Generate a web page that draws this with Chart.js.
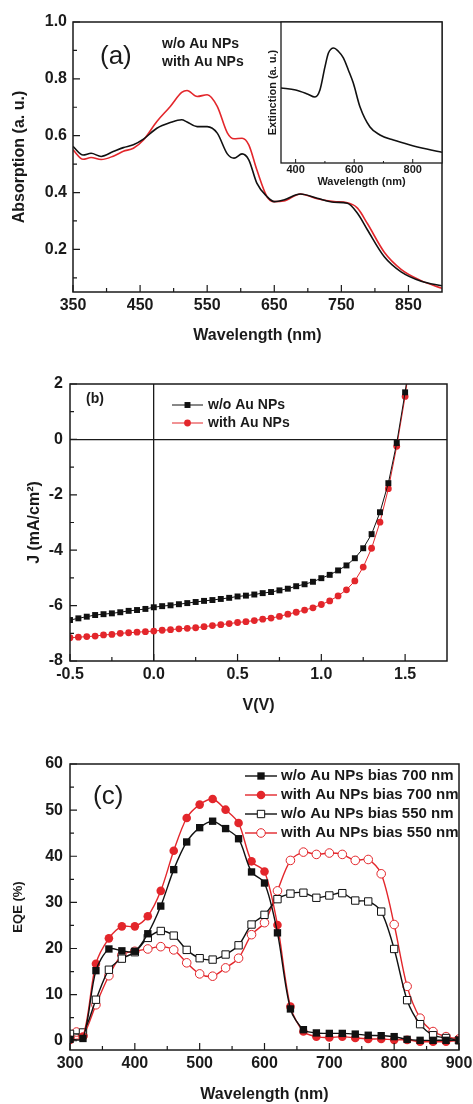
<!DOCTYPE html>
<html><head><meta charset="utf-8">
<script src="https://cdn.jsdelivr.net/npm/chart.js@4.4.1/dist/chart.umd.min.js"></script>
<style>
html,body{margin:0;padding:0;background:#fff;}
body{width:473px;height:1104px;position:relative;overflow:hidden;}
canvas{position:absolute;}
</style></head><body>
<canvas id="cA" width="473" height="350" style="left:0;top:0"></canvas>
<canvas id="cIn" width="195" height="195" style="left:260px;top:0"></canvas>
<canvas id="cB" width="473" height="370" style="left:0;top:350px"></canvas>
<canvas id="cC" width="473" height="384" style="left:0;top:720px"></canvas>
<script>
// ---------- DATA ----------
// (a) absorption
const absWavelength = [350,365,377,392,410,425,440,455,475,495,512,520,535,550,565,580,590,602,612,624,639,650,664,689,714,739,759,774,789,814,839,869,900];
const absWithout = [0.562,0.532,0.538,0.527,0.544,0.558,0.568,0.588,0.626,0.646,0.656,0.648,0.632,0.632,0.609,0.536,0.521,0.536,0.515,0.433,0.386,0.368,0.374,0.395,0.380,0.366,0.362,0.327,0.268,0.174,0.121,0.088,0.072];
const absWith = [0.550,0.517,0.523,0.516,0.528,0.545,0.556,0.585,0.650,0.703,0.752,0.759,0.738,0.744,0.703,0.610,0.589,0.591,0.568,0.480,0.386,0.368,0.370,0.395,0.378,0.368,0.364,0.345,0.290,0.190,0.130,0.090,0.063];
const absSeriesNames = ['w/o Au NPs','with Au NPs'];
const absXTicks = [350,450,550,650,750,850];
const absXMinor = [400,500,600,700,800];
const absYTicks = [0.2,0.4,0.6,0.8,1.0];
const absYMinor = [0.1,0.3,0.5,0.7,0.9];
// inset extinction
const extWavelength = [350,400,440,466,483,500,512,530,545,563,580,597,620,654,688,734,791,848,900];
const extinction = [0.532,0.518,0.49,0.468,0.518,0.68,0.78,0.816,0.794,0.745,0.66,0.567,0.397,0.255,0.199,0.163,0.128,0.099,0.076];
const extXTicks = [400,600,800];
const extXMinor = [500,700];
// (b) J-V
const jvVoltage = [-0.5,-0.45,-0.4,-0.35,-0.3,-0.25,-0.2,-0.15,-0.1,-0.05,0,0.05,0.1,0.15,0.2,0.25,0.3,0.35,0.4,0.45,0.5,0.55,0.6,0.65,0.7,0.75,0.8,0.85,0.9,0.95,1.0,1.05,1.1,1.15,1.2,1.25,1.3,1.35,1.4,1.45,1.5,1.55];
const jvWithout = [-6.52,-6.46,-6.40,-6.34,-6.31,-6.28,-6.24,-6.19,-6.16,-6.12,-6.06,-6.02,-5.99,-5.95,-5.91,-5.87,-5.83,-5.80,-5.76,-5.72,-5.67,-5.64,-5.60,-5.55,-5.51,-5.45,-5.39,-5.30,-5.23,-5.14,-5.01,-4.89,-4.73,-4.55,-4.29,-3.93,-3.42,-2.63,-1.58,-0.13,1.70,3.9];
const jvWith = [-7.16,-7.14,-7.12,-7.10,-7.06,-7.04,-7.00,-6.98,-6.96,-6.94,-6.92,-6.89,-6.87,-6.84,-6.82,-6.80,-6.76,-6.72,-6.69,-6.65,-6.61,-6.58,-6.54,-6.49,-6.45,-6.39,-6.31,-6.24,-6.16,-6.08,-5.96,-5.83,-5.65,-5.43,-5.11,-4.61,-3.93,-2.99,-1.78,-0.25,1.55,3.8];
const jvSeriesNames = ['w/o Au NPs','with Au NPs'];
const jvXTicks = [-0.5,0,0.5,1.0,1.5];
const jvXMinor = [-0.25,0.25,0.75,1.25];
const jvYTicks = [-8,-6,-4,-2,0,2];
const jvYMinor = [-7,-5,-3,-1,1];
// (c) EQE
const eqeWavelength = [300,310,320,340,360,380,400,420,440,460,480,500,520,540,560,580,600,620,640,660,680,700,720,740,760,780,800,820,840,860,880,900];
const eqeNoAu700 = [0.3,null,0.5,15.2,19.9,19.5,19.4,23.2,29.2,37.1,43.1,46.2,47.6,46.0,43.8,36.6,34.2,23.4,6.9,2.4,1.7,1.6,1.6,1.45,1.2,1.1,0.9,0.3,0.1,0.1,0.1,0.1];
const eqeAu700 = [0.2,null,0.9,16.7,22.2,24.8,24.8,27.0,32.5,41.2,48.3,51.2,52.4,50.1,47.2,38.9,36.7,25.1,7.4,2.0,0.9,0.7,0.9,0.6,0.4,0.4,0.2,0.2,-0.2,-0.2,-0.2,0.1];
const eqeNoAu550 = [1.5,null,1.8,8.9,15.4,17.8,19.2,22.3,23.8,22.8,19.7,17.9,17.6,18.7,20.7,25.2,27.3,30.7,31.9,32.1,31.0,31.5,32.0,30.4,30.2,28.0,19.9,8.8,3.6,1.2,0.6,0.1];
const eqeAu550 = [0.6,1.9,1.0,7.8,14.1,18.6,19.4,19.9,20.4,19.7,16.9,14.5,14.0,15.8,17.9,23.0,25.6,32.5,39.1,40.9,40.4,40.7,40.4,39.1,39.3,36.2,25.2,11.8,4.9,2.0,0.9,0.4];
const eqeSeriesNames = ['w/o Au NPs bias 700 nm','with Au NPs bias 700 nm','w/o Au NPs bias 550 nm','with Au NPs bias 550 nm'];
const eqeXTicks = [300,400,500,600,700,800,900];
const eqeXMinor = [350,450,550,650,750,850];
const eqeYTicks = [0,10,20,30,40,50,60];
const eqeYMinor = [5,15,25,35,45,55];

// ---------- STYLE ----------
const FAM = "'Liberation Sans', Arial, sans-serif";
const INK = '#1a1a1a';
const RED = '#e3262b';
const BLK = '#111111';
Chart.defaults.font.family = FAM;
Chart.defaults.color = INK;

const pts = (xs, ys) => xs.map((x, i) => ({x, y: ys[i]}));

function drawMarker(ctx, style, x, y, r, fill, stroke, bw) {
  ctx.beginPath();
  if (style === 'rect') {
    const h = r * Math.SQRT1_2;
    ctx.rect(x - h, y - h, 2 * h, 2 * h);
  } else {
    ctx.arc(x, y, r, 0, Math.PI * 2);
  }
  ctx.fillStyle = fill; ctx.fill();
  if (bw > 0) { ctx.lineWidth = bw; ctx.strokeStyle = stroke; ctx.stroke(); }
}

const framePlugin = {
  id: 'frame',
  beforeDraw(chart, args, o) {
    if (!o || !o.bg) return;
    const {ctx, chartArea: a} = chart;
    ctx.save(); ctx.fillStyle = o.bg;
    ctx.fillRect(a.left, a.top, a.right - a.left, a.bottom - a.top);
    ctx.restore();
  },
  afterDatasetsDraw(chart, args, o) {
    if (!o || !o.on) return;
    const {ctx, chartArea: a} = chart;
    const xs = chart.scales.x, ys = chart.scales.y;
    ctx.save();
    ctx.strokeStyle = INK;
    ctx.lineWidth = o.tickLw || 1.2;
    ctx.beginPath();
    (o.xMajor || []).forEach(v => { const p = xs.getPixelForValue(v); ctx.moveTo(p, a.bottom); ctx.lineTo(p, a.bottom - o.len); });
    (o.xMinor || []).forEach(v => { const p = xs.getPixelForValue(v); ctx.moveTo(p, a.bottom); ctx.lineTo(p, a.bottom - o.minLen); });
    (o.yMajor || []).forEach(v => { const p = ys.getPixelForValue(v); ctx.moveTo(a.left, p); ctx.lineTo(a.left + o.len, p); });
    (o.yMinor || []).forEach(v => { const p = ys.getPixelForValue(v); ctx.moveTo(a.left, p); ctx.lineTo(a.left + o.minLen, p); });
    ctx.stroke();
    ctx.lineWidth = o.lw || 1.5;
    ctx.strokeRect(a.left, a.top, a.right - a.left, a.bottom - a.top);
    ctx.restore();
  }
};

const annotPlugin = {
  id: 'annot',
  afterDraw(chart, args, o) {
    if (!o) return;
    const ctx = chart.ctx;
    ctx.save();
    (o.legend || []).forEach(l => {
      const ds = chart.data.datasets[l.ds];
      if (l.x2 > l.x1) {
        ctx.strokeStyle = ds.borderColor; ctx.lineWidth = ds.borderWidth;
        ctx.beginPath(); ctx.moveTo(l.x1, l.y); ctx.lineTo(l.x2, l.y); ctx.stroke();
        drawMarker(ctx, ds.pointStyle, (l.x1 + l.x2) / 2, l.y, ds.pointRadius, ds.pointBackgroundColor, ds.pointBorderColor, ds.pointBorderWidth);
      }
      ctx.font = l.font; ctx.fillStyle = INK; ctx.textAlign = 'left'; ctx.textBaseline = 'middle';
      ctx.fillText(ds.label, l.tx, l.y);
    });
    (o.texts || []).forEach(t => {
      ctx.font = t.font; ctx.fillStyle = INK; ctx.textAlign = t.align || 'left'; ctx.textBaseline = 'middle';
      ctx.fillText(t.text, t.x, t.y);
    });
    ctx.restore();
  }
};
Chart.register(framePlugin, annotPlugin);

function xAxis(min, max, ticks, height, tickFont, pad, title, titleFont, titlePadB, fmt) {
  return {
    type: 'linear', min, max,
    afterBuildTicks: s => { s.ticks = ticks.map(v => ({value: v})); },
    afterFit: s => { s.height = height; s.paddingLeft = 0; s.paddingRight = 0; },
    grid: {display: false, drawTicks: false}, border: {display: false},
    ticks: {display: !!tickFont, font: tickFont || {}, color: INK, padding: pad, maxRotation: 0, autoSkip: false,
      callback: fmt || (v => String(v))},
    title: {display: true, text: title, font: titleFont, color: INK, padding: {top: 0, bottom: titlePadB}}
  };
}
function yAxis(min, max, ticks, width, tickFont, pad, title, titleFont, titlePadT, fmt) {
  return {
    type: 'linear', min, max,
    afterBuildTicks: s => { s.ticks = ticks.map(v => ({value: v})); },
    afterFit: s => { s.width = width; s.paddingTop = 0; s.paddingBottom = 0; },
    grid: {display: false, drawTicks: false}, border: {display: false},
    ticks: {display: !!tickFont, font: tickFont || {}, color: INK, padding: pad, autoSkip: false,
      callback: fmt || (v => String(v))},
    title: {display: true, text: title, font: titleFont, color: INK, padding: {top: titlePadT, bottom: 0}}
  };
}
const B16 = {family: FAM, size: 16, weight: 'bold'};
const common = {responsive: false, animation: false, events: [], devicePixelRatio: 1};

// ---------- (a) ----------
new Chart(document.getElementById('cA'), {
  type: 'line',
  data: {datasets: [
    {label: absSeriesNames[0], data: pts(absWavelength, absWithout), borderColor: BLK, borderWidth: 1.6, pointRadius: 0, cubicInterpolationMode: 'monotone'},
    {label: absSeriesNames[1], data: pts(absWavelength, absWith), borderColor: RED, borderWidth: 1.6, pointRadius: 0, cubicInterpolationMode: 'monotone'}
  ]},
  options: {...common,
    layout: {padding: {left: 0, right: 31, top: 22, bottom: 0}},
    scales: {
      x: xAxis(350, 900, absXTicks, 58, B16, 4, 'Wavelength (nm)', B16, 5),
      y: yAxis(0.05, 1.0, absYTicks, 73, B16, 6, 'Absorption (a. u.)', B16, 10, v => v.toFixed(1))
    },
    plugins: {legend: {display: false}, tooltip: {enabled: false},
      frame: {on: true, lw: 1.5, len: 7, minLen: 4, xMajor: absXTicks, xMinor: absXMinor, yMajor: absYTicks, yMinor: absYMinor},
      annot: {
        legend: [
          {ds: 0, x1: 0, x2: 0, tx: 162, y: 44, font: "bold 14px " + FAM},
          {ds: 1, x1: 0, x2: 0, tx: 162, y: 62, font: "bold 14px " + FAM}
        ],
        texts: [{text: '(a)', x: 100, y: 57, font: "26px " + FAM}]
      }
    }
  }
});

// ---------- inset ----------
new Chart(document.getElementById('cIn'), {
  type: 'line',
  data: {datasets: [
    {label: 'Extinction', data: pts(extWavelength, extinction), borderColor: BLK, borderWidth: 1.6, pointRadius: 0, cubicInterpolationMode: 'monotone'}
  ]},
  options: {...common,
    layout: {padding: {left: 0, right: 13, top: 22, bottom: 0}},
    scales: {
      x: xAxis(350, 900, extXTicks, 32, {family: FAM, size: 11, weight: 'bold'}, 0, 'Wavelength (nm)', {family: FAM, size: 11, weight: 'bold'}, 6),
      y: yAxis(0, 1, [], 21, null, 0, 'Extinction (a. u.)', {family: FAM, size: 11, weight: 'bold'}, 6)
    },
    plugins: {legend: {display: false}, tooltip: {enabled: false},
      frame: {on: true, bg: '#ffffff', lw: 1.3, tickLw: 1, len: 4, minLen: 2, xMajor: extXTicks, xMinor: extXMinor}
    }
  }
});

// ---------- (b) ----------
new Chart(document.getElementById('cB'), {
  type: 'line',
  data: {datasets: [
    {label: jvSeriesNames[0], data: pts(jvVoltage, jvWithout), borderColor: BLK, borderWidth: 1, tension: 0,
      pointStyle: 'rect', pointRadius: 4.2, pointBackgroundColor: BLK, pointBorderColor: BLK, pointBorderWidth: 0},
    {label: jvSeriesNames[1], data: pts(jvVoltage, jvWith), borderColor: RED, borderWidth: 1, tension: 0,
      pointStyle: 'circle', pointRadius: 3.4, pointBackgroundColor: RED, pointBorderColor: RED, pointBorderWidth: 0}
  ]},
  options: {...common,
    layout: {padding: {left: 0, right: 26, top: 34, bottom: 0}},
    scales: {
      x: Object.assign(xAxis(-0.5, 1.75, jvXTicks, 59, B16, 4, 'V(V)', B16, 5, v => v.toFixed(1)),
        {grid: {display: true, drawTicks: false, lineWidth: 1.3, color: c => c.tick && c.tick.value === 0 ? INK : 'rgba(0,0,0,0)'}}),
      y: Object.assign(yAxis(-8, 2, jvYTicks, 70, B16, 7, 'J (mA/cm²)', B16, 25),
        {grid: {display: true, drawTicks: false, lineWidth: 1.3, color: c => c.tick && c.tick.value === 0 ? INK : 'rgba(0,0,0,0)'}})
    },
    plugins: {legend: {display: false}, tooltip: {enabled: false},
      frame: {on: true, lw: 1.5, len: 7, minLen: 4, xMajor: jvXTicks, xMinor: jvXMinor, yMajor: jvYTicks, yMinor: jvYMinor},
      annot: {
        legend: [
          {ds: 0, x1: 172, x2: 203, tx: 208, y: 55, font: "bold 14px " + FAM},
          {ds: 1, x1: 172, x2: 203, tx: 208, y: 73, font: "bold 14px " + FAM}
        ],
        texts: [{text: '(b)', x: 86, y: 49, font: "bold 14px " + FAM}]
      }
    }
  }
});

// ---------- (c) ----------
new Chart(document.getElementById('cC'), {
  type: 'line',
  data: {datasets: [
    {label: eqeSeriesNames[0], data: pts(eqeWavelength, eqeNoAu700), borderColor: BLK, borderWidth: 1.4, tension: 0.3, spanGaps: true,
      pointStyle: 'rect', pointRadius: 5.2, pointBackgroundColor: BLK, pointBorderColor: BLK, pointBorderWidth: 0},
    {label: eqeSeriesNames[1], data: pts(eqeWavelength, eqeAu700), borderColor: RED, borderWidth: 1.4, tension: 0.3, spanGaps: true,
      pointStyle: 'circle', pointRadius: 4.3, pointBackgroundColor: RED, pointBorderColor: RED, pointBorderWidth: 0},
    {label: eqeSeriesNames[2], data: pts(eqeWavelength, eqeNoAu550), borderColor: BLK, borderWidth: 1.4, tension: 0.3, spanGaps: true,
      pointStyle: 'rect', pointRadius: 5.2, pointBackgroundColor: '#ffffff', pointBorderColor: BLK, pointBorderWidth: 1},
    {label: eqeSeriesNames[3], data: pts(eqeWavelength, eqeAu550), borderColor: RED, borderWidth: 1.4, tension: 0.3, spanGaps: true,
      pointStyle: 'circle', pointRadius: 4.3, pointBackgroundColor: '#ffffff', pointBorderColor: RED, pointBorderWidth: 1}
  ]},
  options: {...common,
    layout: {padding: {left: 0, right: 14, top: 44, bottom: 0}},
    scales: {
      x: xAxis(300, 900, eqeXTicks, 54, B16, 4, 'Wavelength (nm)', B16, 0),
      y: yAxis(-2, 60, eqeYTicks, 70, B16, 7, 'EQE (%)', {family: FAM, size: 13, weight: 'bold'}, 11)
    },
    plugins: {legend: {display: false}, tooltip: {enabled: false},
      frame: {on: true, lw: 1.5, len: 7, minLen: 4, xMajor: eqeXTicks, xMinor: eqeXMinor, yMajor: eqeYTicks, yMinor: eqeYMinor},
      annot: {
        legend: [
          {ds: 0, x1: 245, x2: 277, tx: 281, y: 56, font: "bold 15px " + FAM},
          {ds: 1, x1: 245, x2: 277, tx: 281, y: 75, font: "bold 15px " + FAM},
          {ds: 2, x1: 245, x2: 277, tx: 281, y: 94, font: "bold 15px " + FAM},
          {ds: 3, x1: 245, x2: 277, tx: 281, y: 113, font: "bold 15px " + FAM}
        ],
        texts: [{text: '(c)', x: 93, y: 77, font: "26px " + FAM}]
      }
    }
  }
});
</script>
</body></html>
